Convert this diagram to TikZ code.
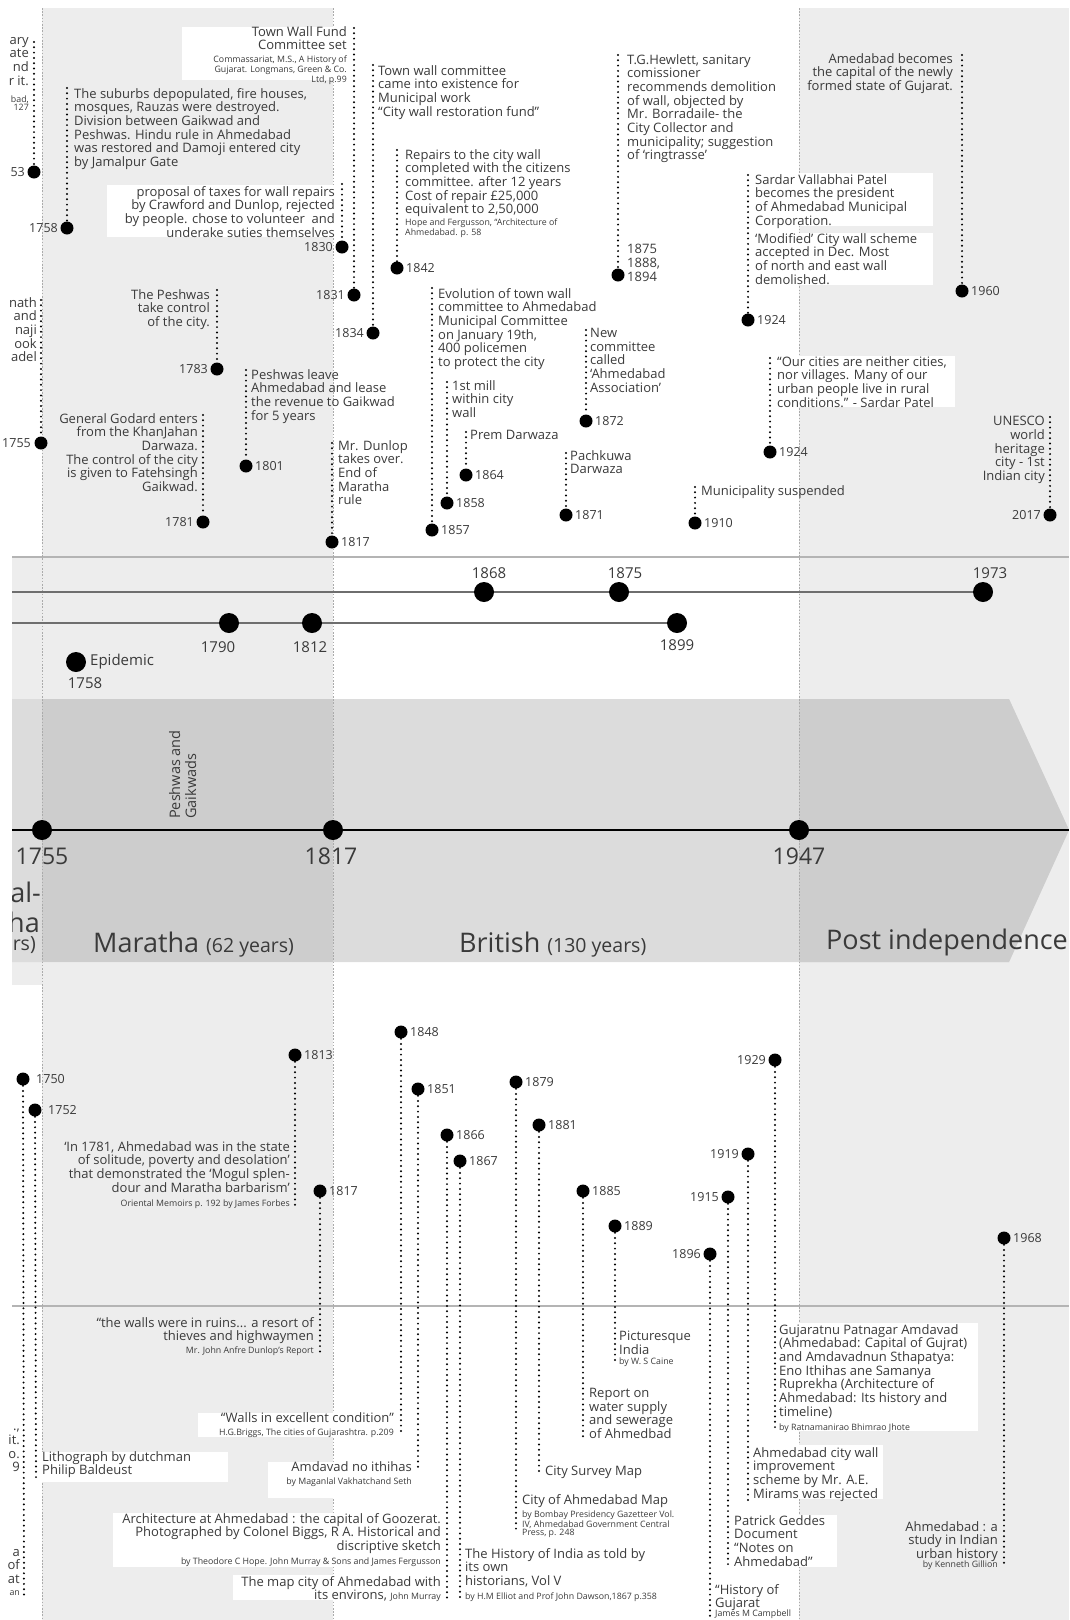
\documentclass[tikz,border=0pt]{standalone}
\usepackage{fontspec}
\setmainfont{Open Sans}
\definecolor{txtc}{HTML}{3A3A3A}
\definecolor{colbg}{HTML}{EDEDED}
\definecolor{bandlt}{HTML}{DCDCDC}
\definecolor{banddk}{HTML}{CDCDCD}
\definecolor{rulec}{HTML}{B4B4B4}
\definecolor{guidec}{HTML}{ABABAB}
\definecolor{strandc}{HTML}{6E6E6E}
\newcommand\evfont{\fontsize{13}{13.7}\selectfont}
\newcommand\yrfont{\fontsize{12.5}{13.7}\selectfont}
\newcommand\citefont{\fontsize{8.8}{8}\selectfont}
\newcommand\midfont{\fontsize{15}{16}\selectfont}
\newcommand\axfont{\fontsize{23}{25}\selectfont}
\newcommand\erafont{\fontsize{27}{29}\selectfont}
\newcommand\erasub{\fontsize{19.5}{21}\selectfont}
\begin{document}
\begin{tikzpicture}[x=1pt,y=-1pt,
  ev/.style={font=\evfont, text=txtc, inner sep=0pt, align=left, anchor=north west},
  evr/.style={ev, align=right, anchor=north east},
  ct/.style={font=\citefont, text=txtc, inner sep=0pt, align=left, anchor=north west},
  ctr/.style={ct, align=right, anchor=north east},
  yrr/.style={font=\yrfont, text=txtc, inner sep=0pt, anchor=west},
  yrl/.style={font=\yrfont, text=txtc, inner sep=0pt, anchor=east},
  evdot/.style={circle, fill=black, minimum size=13pt, inner sep=0pt},
  bigdot/.style={circle, fill=black, minimum size=20pt, inner sep=0pt},
  dotline/.style={draw=black, line width=2.2pt, line cap=round, dash pattern=on 0pt off 5.3pt},
  wbox/.style={fill=white},
  guide/.style={draw=guidec, line width=0.7pt, dash pattern=on 1.6pt off 1.6pt},
  midlab/.style={font=\midfont, text=txtc, inner sep=0pt},
  axlab/.style={font=\axfont, text=txtc, inner sep=0pt},
  era/.style={font=\erafont, text=txtc, inner sep=0pt},
]
\useasboundingbox (0,0) rectangle (1069,1620);

% ---------- background columns ----------
\fill[colbg] (42,8) rectangle (333,1620);
\fill[colbg] (799,8) rectangle (1069,1620);
\fill[colbg] (12,557) rectangle (42,985);

% ---------- era band ----------
\fill[bandlt] (12,699) -- (1009,699) -- (1069,830) -- (1009,962) -- (12,962) -- cycle;
\fill[banddk] (42,699) rectangle (333,962);
\fill[banddk] (799,699) -- (1009,699) -- (1069,830) -- (1009,962) -- (799,962) -- cycle;

% ---------- separating rules ----------
\draw[rulec, line width=2.5pt] (12,557) -- (1069,557);
\draw[rulec, line width=2.5pt] (12,1306) -- (1069,1306);

% ---------- era guides ----------
\foreach \gx in {42,333,799} \draw[guide] (\gx,8) -- (\gx,1620);

% ---------- white label boxes ----------
\fill[wbox] (182,27) rectangle (348,80);
\fill[wbox] (107,185) rectangle (337,237);
\fill[wbox] (750,173) rectangle (933,226);
\fill[wbox] (750,233) rectangle (933,285);
\fill[wbox] (772,356) rectangle (955,407);
\fill[wbox] (198,1413) rectangle (395,1437);
\fill[wbox] (40,1452) rectangle (228,1482);
\fill[wbox] (268,1462) rectangle (413,1498);
\fill[wbox] (113,1513) rectangle (441,1567);
\fill[wbox] (233,1575) rectangle (441,1600);
\fill[wbox] (734,1515) rectangle (837,1567);
\fill[wbox] (752,1445) rectangle (883,1499);
\fill[wbox] (777,1323) rectangle (978,1431);

% =========== upper events ===========
% event at the left edge
\node[evdot] (d1753) at (34,172) {};
\coordinate (a1753) at (34,42);
\draw[dotline] (a1753) -- (d1753);
\node[yrl] (y1753) at (25,172) {53};
\node[evr] (t1753) at (29,37) {ary\\ate\\nd\\r it.};
\node[ctr] (c1753) at (29,96) {bad,\\127};

% 1755
\node[evdot] (d1755) at (41,443) {};
\coordinate (a1755) at (41,300);
\draw[dotline] (a1755) -- (d1755);
\node[yrl] (y1755) at (31,443) {1755};
\node[evr] (t1755) at (37,297) {nath\\and\\naji\\ook\\adel};

% 1758
\node[evdot] (d1758) at (67,228) {};
\coordinate (a1758) at (67,88);
\draw[dotline] (a1758) -- (d1758);
\node[yrl] (y1758) at (58,228) {1758};
\node[ev] (t1758) at (74,88) {The suburbs depopulated, fire houses,\\mosques, Rauzas were destroyed.\\Division between Gaikwad and\\Peshwas. Hindu rule in Ahmedabad\\was restored and Damoji entered city\\by Jamalpur Gate};

% Town wall fund / 1831
\node[evdot] (d1831) at (354,295) {};
\coordinate (a1831) at (354,28);
\draw[dotline] (a1831) -- (d1831);
\node[yrl] (y1831) at (345,295) {1831};
\node[evr] (t1831) at (347,26) {Town Wall Fund\\Committee set};
\node[ctr] (c1831) at (347,56) {Commassariat, M.S., A History of\\Gujarat. Longmans, Green \& Co.\\Ltd, p.99};

% 1830
\node[evdot] (d1830) at (342,247) {};
\coordinate (a1830) at (342,184);
\draw[dotline] (a1830) -- (d1830);
\node[yrl] (y1830) at (333,247) {1830};
\node[evr] (t1830) at (335,186) {proposal of taxes for wall repairs\\by Crawford and Dunlop, rejected\\by people. chose to volunteer\ \ and\\underake suties themselves};

% 1834
\node[evdot] (d1834) at (373,333) {};
\coordinate (a1834) at (373,65);
\draw[dotline] (a1834) -- (d1834);
\node[yrl] (y1834) at (364,333) {1834};
\node[ev] (t1834) at (378,65) {Town wall committee\\came into existence for\\Municipal work\\“City wall restoration fund”};

% 1842
\node[evdot] (d1842) at (397,268) {};
\coordinate (a1842) at (397,150);
\draw[dotline] (a1842) -- (d1842);
\node[yrr] (y1842) at (406,268) {1842};
\node[ev] (t1842) at (405,149) {Repairs to the city wall\\completed with the citizens\\committee. after 12 years\\Cost of repair £25,000\\equivalent to 2,50,000};
\node[ct] (c1842) at (405,219) {Hope and Fergusson, “Architecture of\\Ahmedabad. p. 58};

% 1875 / 1888 / 1894
\node[evdot] (d1894) at (618,275) {};
\coordinate (a1894) at (618,55);
\draw[dotline] (a1894) -- (d1894);
\node[ev] (y1894) at (627,244) {1875\\1888,\\1894};
\node[ev] (t1894) at (627,54) {T.G.Hewlett, sanitary\\comissioner\\recommends demolition\\of wall, objected by\\Mr. Borradaile- the\\City Collector and\\municipality; suggestion\\of ‘ringtrasse’};

% 1960
\node[evdot] (d1960) at (962,291) {};
\coordinate (a1960) at (962,55);
\draw[dotline] (a1960) -- (d1960);
\node[yrr] (y1960) at (971,291) {1960};
\node[evr] (t1960) at (953,53) {Amedabad becomes\\the capital of the newly\\formed state of Gujarat.};

% 1924 (Patel, president)
\node[evdot] (d1924a) at (748,320) {};
\coordinate (a1924a) at (748,175);
\draw[dotline] (a1924a) -- (d1924a);
\node[yrr] (y1924a) at (757,320) {1924};
\node[ev] (t1924a) at (755,174) {Sardar Vallabhai Patel\\becomes the president\\of Ahmedabad Municipal\\Corporation.};
\node[ev] (u1924a) at (755,233) {‘Modified’ City wall scheme\\accepted in Dec. Most\\of north and east wall\\demolished.};

% 1924 (quote)
\node[evdot] (d1924b) at (770,452) {};
\coordinate (a1924b) at (770,358);
\draw[dotline] (a1924b) -- (d1924b);
\node[yrr] (y1924b) at (779,452) {1924};
\node[ev] (t1924b) at (777,356) {“Our cities are neither cities,\\nor villages. Many of our\\urban people live in rural\\conditions.” - Sardar Patel};

% 2017
\node[evdot] (d2017) at (1050,515) {};
\coordinate (a2017) at (1050,417);
\draw[dotline] (a2017) -- (d2017);
\node[yrl] (y2017) at (1041,515) {2017};
\node[evr] (t2017) at (1045,416) {UNESCO\\world\\heritage\\city - 1st\\Indian city};

% 1910
\node[evdot] (d1910) at (695,523) {};
\coordinate (a1910) at (695,487);
\draw[dotline] (a1910) -- (d1910);
\node[yrr] (y1910) at (704,523) {1910};
\node[ev] (t1910) at (701,485) {Municipality suspended};

% 1783
\node[evdot] (d1783) at (217,369) {};
\coordinate (a1783) at (217,290);
\draw[dotline] (a1783) -- (d1783);
\node[yrl] (y1783) at (208,369) {1783};
\node[evr] (t1783) at (210,289) {The Peshwas\\take control\\of the city.};

% 1781
\node[evdot] (d1781) at (203,522) {};
\coordinate (a1781) at (203,415);
\draw[dotline] (a1781) -- (d1781);
\node[yrl] (y1781) at (194,522) {1781};
\node[evr] (t1781) at (198,413) {General Godard enters\\from the KhanJahan\\Darwaza.\\The control of the city\\is given to Fatehsingh\\Gaikwad.};

% 1801
\node[evdot] (d1801) at (246,466) {};
\coordinate (a1801) at (246,370);
\draw[dotline] (a1801) -- (d1801);
\node[yrr] (y1801) at (255,466) {1801};
\node[ev] (t1801) at (251,369) {Peshwas leave\\Ahmedabad and lease\\the revenue to Gaikwad\\for 5 years};

% 1817
\node[evdot] (d1817) at (332,542) {};
\coordinate (a1817) at (332,443);
\draw[dotline] (a1817) -- (d1817);
\node[yrr] (y1817) at (341,542) {1817};
\node[ev] (t1817) at (338,440) {Mr. Dunlop\\takes over.\\End of\\Maratha\\rule};

% 1857
\node[evdot] (d1857) at (432,530) {};
\coordinate (a1857) at (432,288);
\draw[dotline] (a1857) -- (d1857);
\node[yrr] (y1857) at (441,530) {1857};
\node[ev] (t1857) at (438,288) {Evolution of town wall\\committee to Ahmedabad\\Municipal Committee\\on January 19th,\\400 policemen\\to protect the city};

% 1858
\node[evdot] (d1858) at (447,503) {};
\coordinate (a1858) at (447,382);
\draw[dotline] (a1858) -- (d1858);
\node[yrr] (y1858) at (456,503) {1858};
\node[ev] (t1858) at (452,380) {1st mill\\within city\\wall};

% 1864
\node[evdot] (d1864) at (466,475) {};
\coordinate (a1864) at (466,432);
\draw[dotline] (a1864) -- (d1864);
\node[yrr] (y1864) at (475,475) {1864};
\node[ev] (t1864) at (470,430) {Prem Darwaza};

% 1872
\node[evdot] (d1872) at (586,421) {};
\coordinate (a1872) at (586,330);
\draw[dotline] (a1872) -- (d1872);
\node[yrr] (y1872) at (595,421) {1872};
\node[ev] (t1872) at (590,328) {New\\committee\\called\\‘Ahmedabad\\Association’};

% 1871
\node[evdot] (d1871) at (566,515) {};
\coordinate (a1871) at (566,453);
\draw[dotline] (a1871) -- (d1871);
\node[yrr] (y1871) at (575,515) {1871};
\node[ev] (t1871) at (570,450) {Pachkuwa\\Darwaza};

% =========== middle strands ===========
\coordinate (s1L) at (12,592);
\coordinate (s1R) at (983,592);
\coordinate (s2L) at (12,623);
\coordinate (s2R) at (677,623);
\draw[strandc, line width=2.8pt] (s1L) -- (s1R);
\draw[strandc, line width=2.8pt] (s2L) -- (s2R);
\node[bigdot] (m1868) at (484,592) {};
\node[bigdot] (m1875) at (619,592) {};
\node[bigdot] (m1973) at (983,592) {};
\node[midlab] (l1868) at (489,573) {1868};
\node[midlab] (l1875) at (625,573) {1875};
\node[midlab] (l1973) at (990,573) {1973};
\node[bigdot] (m1790) at (229,623) {};
\node[bigdot] (m1812) at (312,623) {};
\node[bigdot] (m1899) at (677,623) {};
\node[midlab] (l1790) at (218,647) {1790};
\node[midlab] (l1812) at (310,647) {1812};
\node[midlab] (l1899) at (677,645) {1899};
\node[bigdot] (m1758) at (76,662) {};
\node[midlab, anchor=west] (lepi) at (90,662) {Epidemic};
\node[midlab] (l1758) at (85,683) {1758};

% =========== main axis ===========
\coordinate (axL) at (12,830);
\coordinate (axR) at (1069,830);
\draw[black, line width=2.4pt] (axL) -- (axR);
\node[bigdot] (x1755) at (42,830) {};
\node[bigdot] (x1817) at (333,830) {};
\node[bigdot] (x1947) at (799,830) {};
\node[axlab] (lx1755) at (42,856) {1755};
\node[axlab] (lx1817) at (331,856) {1817};
\node[axlab] (lx1947) at (799,856) {1947};
\node[font=\fontsize{14.5}{16}\selectfont, text=txtc, inner sep=0pt, align=left, anchor=north west, rotate=90] (pg) at (169,819) {Peshwas and\\Gaikwads};
\begin{scope}
\clip (12,690) rectangle (1069,970);
\node[era, anchor=east] (f1) at (41,892) {al-};
\node[era, anchor=east] (f2) at (40,922) {ha};
\node[era, anchor=east] (f3) at (36,945) {\erasub rs)};
\node[era, anchor=west] (eMar) at (93,945) {Maratha {\erasub(62 years)}};
\node[era, anchor=west] (eBri) at (459,945) {British {\erasub(130 years)}};
\node[era, anchor=west] (ePost) at (826,942) {Post independence};
\end{scope}

% =========== lower events ===========
% 1750
\node[evdot] (d1750) at (23,1079) {};
\coordinate (b1750) at (24,1596);
\draw[dotline] (d1750) -- (b1750);
\node[yrr] (y1750) at (36,1079) {1750};
\node[evr] (f1750a) at (20,1429) {.,\\it.\\o.\\9};
\node[evr] (f1750b) at (20,1549) {a\\of\\at};
\node[ctr] (f1750c) at (20,1590) {an};

% 1752
\node[evdot] (d1752) at (35,1110) {};
\coordinate (b1752) at (36,1482);
\draw[dotline] (d1752) -- (b1752);
\node[yrr] (y1752) at (48,1110) {1752};
\node[ev] (t1752) at (42,1451) {Lithograph by dutchman\\Philip Baldeust};

% 1813
\node[evdot] (d1813) at (295,1055) {};
\coordinate (b1813) at (295,1205);
\draw[dotline] (d1813) -- (b1813);
\node[yrr] (y1813) at (304,1055) {1813};
\node[evr] (t1813) at (290,1141) {‘In 1781, Ahmedabad was in the state\\of solitude, poverty and desolation’\\that demonstrated the ‘Mogul splen-\\dour and Maratha barbarism’};
\node[ctr] (c1813) at (290,1200) {Oriental Memoirs p. 192 by James Forbes};

% 1817 (lower)
\node[evdot] (d1817b) at (320,1191) {};
\coordinate (b1817b) at (320,1353);
\draw[dotline] (d1817b) -- (b1817b);
\node[yrr] (y1817b) at (329,1191) {1817};
\node[evr] (t1817b) at (314,1317) {“the walls were in ruins... a resort of\\thieves and highwaymen};
\node[ctr] (c1817b) at (314,1347) {Mr. John Anfre Dunlop’s Report};

% 1848
\node[evdot] (d1848) at (401,1032) {};
\coordinate (b1848) at (401,1433);
\draw[dotline] (d1848) -- (b1848);
\node[yrr] (y1848) at (410,1032) {1848};
\node[evr] (t1848) at (394,1412) {“Walls in excellent condition”};
\node[ctr] (c1848) at (394,1429) {H.G.Briggs, The cities of Gujarashtra. p.209};

% 1851
\node[evdot] (d1851) at (418,1089) {};
\coordinate (b1851) at (418,1470);
\draw[dotline] (d1851) -- (b1851);
\node[yrr] (y1851) at (427,1089) {1851};
\node[evr] (t1851) at (412,1461) {Amdavad no ithihas};
\node[ctr] (c1851) at (412,1478) {by Maganlal Vakhatchand Seth};

% 1866
\node[evdot] (d1866) at (447,1135) {};
\coordinate (b1866) at (447,1598);
\draw[dotline] (d1866) -- (b1866);
\node[yrr] (y1866) at (456,1135) {1866};
\node[evr] (t1866) at (441,1513) {Architecture at Ahmedabad : the capital of Goozerat.\\Photographed by Colonel Biggs, R A. Historical and\\discriptive sketch};
\node[ctr] (c1866) at (441,1558) {by Theodore C Hope. John Murray \& Sons and James Fergusson};
\node[evr] (u1866) at (441,1576) {The map city of Ahmedabad with\\its environs, {\citefont John Murray}};

% 1867
\node[evdot] (d1867) at (460,1161) {};
\coordinate (b1867) at (460,1597);
\draw[dotline] (d1867) -- (b1867);
\node[yrr] (y1867) at (469,1161) {1867};
\node[ev] (t1867) at (465,1548) {The History of India as told by\\its own\\historians, Vol V};
\node[ct] (c1867) at (465,1593) {by H.M Elliot and Prof John Dawson,1867 p.358};

% 1879
\node[evdot] (d1879) at (516,1082) {};
\coordinate (b1879) at (516,1530);
\draw[dotline] (d1879) -- (b1879);
\node[yrr] (y1879) at (525,1082) {1879};
\node[ev] (t1879) at (522,1494) {City of Ahmedabad Map};
\node[ct] (c1879) at (522,1511) {by Bombay Presidency Gazetteer Vol.\\IV, Ahmedabad Government Central\\Press, p. 248};

% 1881
\node[evdot] (d1881) at (539,1125) {};
\coordinate (b1881) at (539,1475);
\draw[dotline] (d1881) -- (b1881);
\node[yrr] (y1881) at (548,1125) {1881};
\node[ev] (t1881) at (545,1466) {City Survey Map};

% 1885
\node[evdot] (d1885) at (583,1191) {};
\coordinate (b1885) at (583,1438);
\draw[dotline] (d1885) -- (b1885);
\node[yrr] (y1885) at (592,1191) {1885};
\node[ev] (t1885) at (589,1388) {Report on\\water supply\\and sewerage\\of Ahmedbad};

% 1889
\node[evdot] (d1889) at (615,1226) {};
\coordinate (b1889) at (615,1363);
\draw[dotline] (d1889) -- (b1889);
\node[yrr] (y1889) at (624,1226) {1889};
\node[ev] (t1889) at (619,1331) {Picturesque\\India};
\node[ct] (c1889) at (619,1358) {by W. S Caine};

% 1896
\node[evdot] (d1896) at (710,1254) {};
\coordinate (b1896) at (710,1625);
\draw[dotline] (d1896) -- (b1896);
\node[yrl] (y1896) at (701,1254) {1896};
\node[ev] (t1896) at (715,1584) {“History of\\Gujarat};
\node[ct] (c1896) at (715,1610) {James M Campbell};

% 1915
\node[evdot] (d1915) at (728,1197) {};
\coordinate (b1915) at (728,1567);
\draw[dotline] (d1915) -- (b1915);
\node[yrl] (y1915) at (719,1197) {1915};
\node[ev] (t1915) at (734,1515) {Patrick Geddes\\Document\\“Notes on\\Ahmedabad”};

% 1919
\node[evdot] (d1919) at (748,1154) {};
\coordinate (b1919) at (748,1500);
\draw[dotline] (d1919) -- (b1919);
\node[yrl] (y1919) at (739,1154) {1919};
\node[ev] (t1919) at (753,1447) {Ahmedabad city wall\\improvement\\scheme by Mr. A.E.\\Mirams was rejected};

% 1929
\node[evdot] (d1929) at (775,1060) {};
\coordinate (b1929) at (775,1431);
\draw[dotline] (d1929) -- (b1929);
\node[yrl] (y1929) at (766,1060) {1929};
\node[ev] (t1929) at (779,1324) {Gujaratnu Patnagar Amdavad\\(Ahmedabad: Capital of Gujrat)\\and Amdavadnun Sthapatya:\\Eno Ithihas ane Samanya\\Ruprekha (Architecture of\\Ahmedabad: Its history and\\timeline)};
\node[ct] (c1929) at (779,1424) {by Ratnamanirao Bhimrao Jhote};

% 1968
\node[evdot] (d1968) at (1004,1238) {};
\coordinate (b1968) at (1004,1567);
\draw[dotline] (d1968) -- (b1968);
\node[yrr] (y1968) at (1013,1238) {1968};
\node[evr] (t1968) at (998,1521) {Ahmedabad : a\\study in Indian\\urban history};
\node[ctr] (c1968) at (998,1561) {by Kenneth Gillion};
\end{tikzpicture}
\end{document}
